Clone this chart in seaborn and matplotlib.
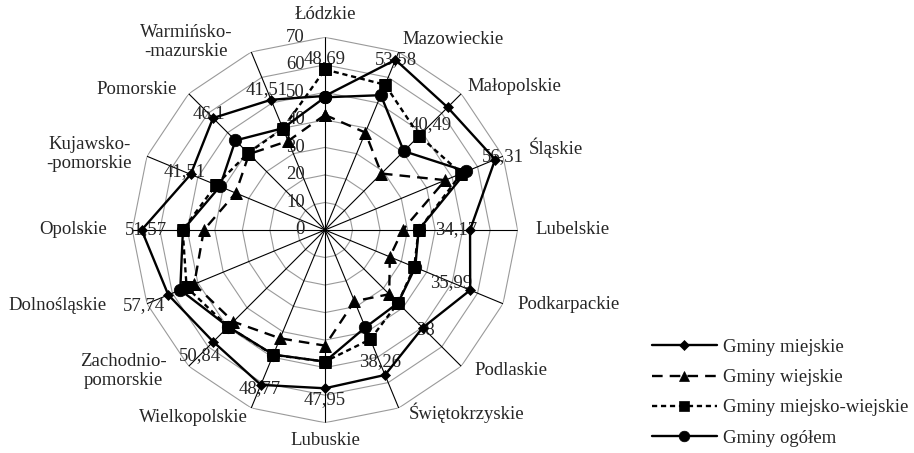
import numpy as np
import pandas as pd
import seaborn as sns
import matplotlib.pyplot as plt

sns.set_style("white")
plt.rcParams['font.family'] = ['Liberation Serif', 'DejaVu Serif']
plt.rcParams['font.size'] = 13.5

regions = ["Łódzkie", "Mazowieckie", "Małopolskie", "Śląskie", "Lubelskie",
           "Podkarpackie", "Podlaskie", "Świętokrzyskie", "Lubuskie", "Wielkopolskie",
           "Zachodnio-\npomorskie", "Dolnośląskie", "Opolskie", "Kujawsko-\n-pomorskie",
           "Pomorskie", "Warmińsko-\n-mazurskie"]

miejskie = [48.7, 66.9, 63.0, 66.9, 52.7, 57.1, 50.2, 57.0,
            57.5, 60.9, 57.4, 61.6, 66.6, 52.8, 57.5, 51.2]
wiejskie = [41.8, 38.3, 29.0, 47.3, 28.2, 25.5, 33.0, 28.0,
            42.0, 42.6, 47.1, 51.4, 44.0, 35.1, 39.0, 35.0]
miejsko_wiejskie = [58.3, 57.1, 48.4, 53.6, 34.0, 35.1, 37.5, 43.0,
                    47.8, 49.1, 49.7, 54.4, 51.7, 42.8, 39.5, 39.9]
ogolem = [48.2, 53.0, 40.5, 55.6, 34.0, 35.5, 37.5, 38.3,
          47.8, 49.0, 49.7, 56.9, 51.6, 41.3, 46.0, 40.0]

series_names = ["Gminy miejskie", "Gminy wiejskie",
                "Gminy miejsko-wiejskie", "Gminy ogółem"]

# data labels printed on the chart (next to the "miejskie" points)
value_labels = ["48,69", "53,58", "40,49", "56,31", "34,17", "35,99", "38", "38,26",
                "47,95", "48,77", "50,84", "57,74", "51,57", "41,51", "46,1", "41,51"]
label_values = [48.69, 53.58, 40.49, 56.31, 34.17, 35.99, 38.0, 38.26,
                47.95, 48.77, 50.84, 57.74, 51.57, 41.51, 46.1, 41.51]

r_ticks = [0, 10, 20, 30, 40, 50, 60, 70]

# category label placement (degrees clockwise from top, radius)
cat_angle = [0, 22, 44.8, 68.1, 90, 111.3, 133.2, 155.3,
             180, 202.3, 228.3, 250.8, 270, 291.5, 313.6, 333.7]
cat_r = [78.1, 74.8, 73.2, 79.9, 76.3, 74.9, 74.3, 73.1,
         76.6, 73.8, 76.9, 83.9, 79.2, 75.3, 74.2, 76.2]

n = len(regions)
theta = np.arange(n) * 2 * np.pi / n
theta_closed = np.append(theta, 2 * np.pi)

rows = []
for name, vals in zip(series_names, [miejskie, wiejskie, miejsko_wiejskie, ogolem]):
    for t, v in zip(theta_closed, vals + vals[:1]):
        rows.append({"series": name, "theta": t, "value": v})
df = pd.DataFrame(rows)

fig = plt.figure(figsize=(9.14, 4.53), dpi=100)
ax = fig.add_axes([0.1447, 0.0669, 0.4217, 0.8508], projection='polar')
ax.set_theta_zero_location('N')
ax.set_theta_direction(-1)
ax.set_ylim(0, 70)
ax.set_xticks([])
ax.set_yticks([])
ax.grid(False)
ax.spines['polar'].set_visible(False)

# polygon grid rings and spokes
for r in r_ticks[1:]:
    ax.plot(theta_closed, [r] * (n + 1), color='#9a9a9a', lw=0.8, zorder=1)
for t in theta:
    ax.plot([t, t], [0, 70], color='black', lw=0.8, zorder=1)

styles = {
    "Gminy miejskie": dict(marker='D', markersize=5.5, linestyle='-'),
    "Gminy wiejskie": dict(marker='^', markersize=8, linestyle=(0, (4.5, 3))),
    "Gminy miejsko-wiejskie": dict(marker='s', markersize=8.5, linestyle=(0, (2.2, 1.6))),
    "Gminy ogółem": dict(marker='o', markersize=9, linestyle='-'),
}

for name in series_names:
    sns.lineplot(data=df[df.series == name], x='theta', y='value', sort=False,
                 estimator=None, color='black', linewidth=1.7,
                 markeredgecolor='black', markerfacecolor='black',
                 markeredgewidth=0.5, label=name, ax=ax, zorder=3,
                 **styles[name])

ax.set_xlabel('')
ax.set_ylabel('')

# radial tick labels along the top spoke
for v in r_ticks:
    ax.annotate(str(v), xy=(0, v), xytext=(-14.4, 0), textcoords='offset points',
                ha='right', va='center', zorder=2)

# data labels
for t, v, s in zip(theta, label_values, value_labels):
    ax.text(t, v + 13.6, s, ha='center', va='center', zorder=2)

# category labels
for a, r, s in zip(cat_angle, cat_r, regions):
    if a in (0, 180):
        ha = 'center'
    elif a < 180:
        ha = 'left'
    else:
        ha = 'right'
    ax.text(np.deg2rad(a), r, s, ha=ha, va='center', multialignment='center',
            clip_on=False)

ax.legend(loc='upper left', bbox_to_anchor=(0.713, 0.252),
          bbox_transform=fig.transFigure, frameon=False, borderaxespad=0,
          handlelength=3.5, handletextpad=0.3, labelspacing=0.7,
          borderpad=0, markerscale=0.85)

fig.savefig('out.png', dpi=100)
